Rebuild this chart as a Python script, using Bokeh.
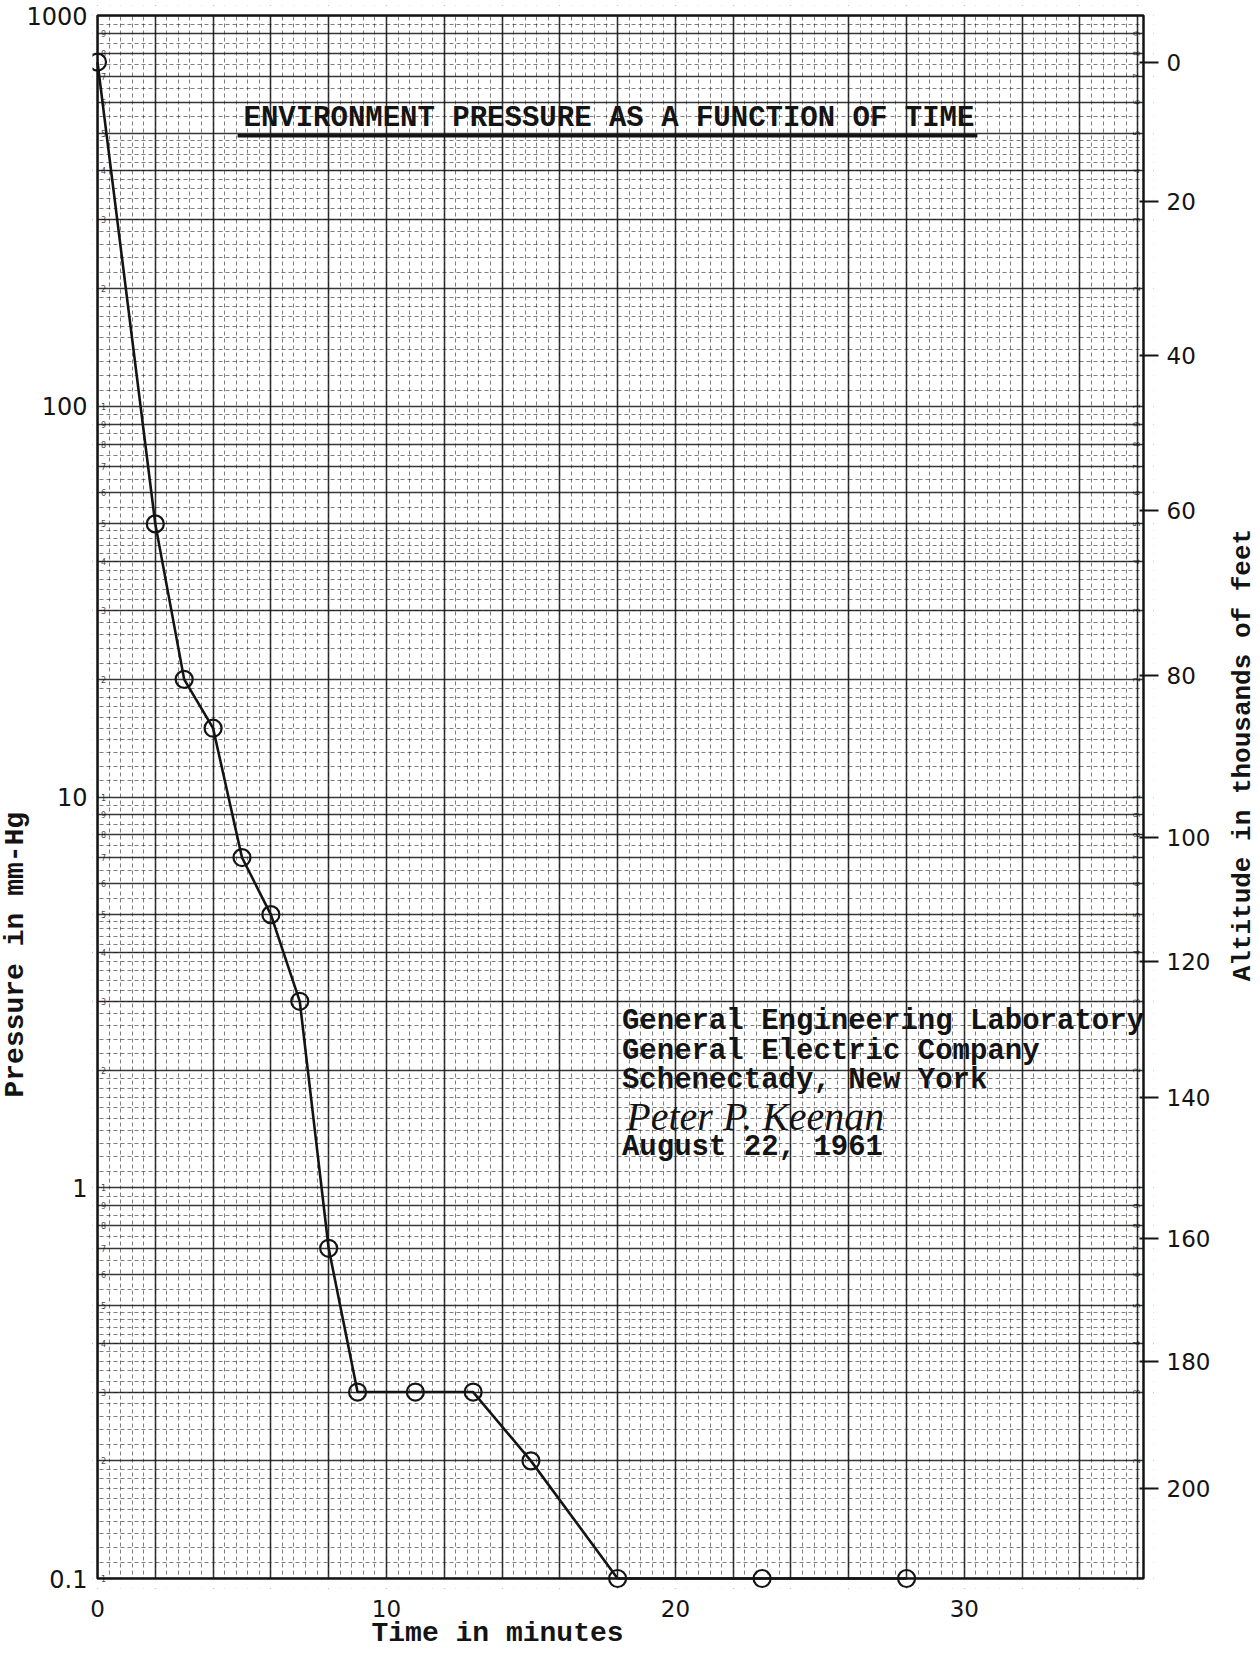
import numpy as np
from bokeh.plotting import figure
from bokeh.models import Range1d, FixedTicker, LogAxis, Label, Title
from bokeh.core.properties import value
from bokeh.embed import file_html
from bokeh.resources import INLINE

# ---------------- data ----------------
time_min = [0, 2, 3, 4, 5, 6, 7, 8, 9, 11, 13, 15, 18, 23, 28]
pressure_mmhg = [760, 50, 20, 15, 7, 5, 3, 0.7, 0.3, 0.3, 0.3, 0.2, 0.1, 0.1, 0.1]

x_ticks = [0, 10, 20, 30]
y_ticks = [0.1, 1.0, 10.0, 100.0, 1000.0]
y_tick_labels = ["0.1", "1", "10", "100", "1000"]

altitude_kft = [0, 20, 40, 60, 80, 100, 120, 140, 160, 180, 200]
altitude_pressure = [760.0, 335.0, 135.0, 54.0, 20.5, 7.9, 3.8, 1.7, 0.74, 0.36, 0.17]

title_text = "ENVIRONMENT PRESSURE AS A FUNCTION OF TIME"
note_lines = ["General Engineering Laboratory",
              "General Electric Company",
              "Schenectady, New York"]
signature_text = "Peter P. Keenan"
date_text = "August 22, 1961"
x_title = "Time in minutes"
y_title = "Pressure in mm-Hg"
y2_title = "Altitude in thousands of feet"

# ---------------- layout / styling ----------------
INK = "#141414"
MONO = "Liberation Mono"
SANS = "DejaVu Sans"

W, H = 1260, 1653
PAPER_X = (0.0, 36.2)          # extent of the graph paper (minutes)
PAPER_Y = (0.1, 1000.0)        # extent of the graph paper (mm-Hg)
paper_left, paper_top, paper_w, paper_h = 97, 15, 1046, 1563
pad_l, pad_r, pad_t, pad_b = 5, 10, 10, 10   # px of frame beyond the paper

px_per_min = paper_w / (PAPER_X[1] - PAPER_X[0])
px_per_dec = paper_h / (np.log10(PAPER_Y[1]) - np.log10(PAPER_Y[0]))
xr = Range1d(PAPER_X[0] - pad_l / px_per_min, PAPER_X[1] + pad_r / px_per_min)
yr = Range1d(PAPER_Y[0] / 10 ** (pad_b / px_per_dec), PAPER_Y[1] * 10 ** (pad_t / px_per_dec))

f_left = paper_left - pad_l
f_top = paper_top - pad_t
f_right = paper_left + paper_w + pad_r
f_bottom = paper_top + paper_h + pad_b

p = figure(width=W, height=H, x_range=xr, y_range=yr,
           y_axis_type="log", output_backend="svg", toolbar_location=None,
           min_border_left=f_left, min_border_right=W - f_right,
           min_border_top=f_top, min_border_bottom=H - f_bottom,
           background_fill_color="white", border_fill_color="white")
p.outline_line_color = None

# graph-paper grid
xg_major = list(np.arange(0, 36.3, 2.0))
xg_minor = list(np.round(np.arange(0, 36.3, 0.4), 3))
p.xgrid.ticker = FixedTicker(ticks=xg_major, minor_ticks=xg_minor)

yg_major, yg_minor = [], []
for k in range(-1, 3):
    d = 10.0 ** k
    for m in range(1, 10):
        yg_major.append(m * d)
    for m in np.arange(1.1, 2.0, 0.1):
        yg_minor.append(m * d)
    for m in np.arange(2.2, 5.0, 0.2):
        yg_minor.append(m * d)
    for m in [5.5, 6.5, 7.5, 8.5, 9.5]:
        yg_minor.append(m * d)
yg_major.append(1000.0)
p.ygrid.ticker = FixedTicker(ticks=yg_major, minor_ticks=yg_minor)

for g in (p.xgrid[0], p.ygrid[0]):
    g.grid_line_color = INK
    g.grid_line_alpha = 0.85
    g.grid_line_width = 1.6
    g.minor_grid_line_color = INK
    g.minor_grid_line_alpha = 0.55
    g.minor_grid_line_width = 1
    g.minor_grid_line_dash = "4 3"

# white margins hide grid outside the paper, then the paper border
lo_x, hi_x = xr.start, xr.end
lo_y, hi_y = yr.start, yr.end
p.quad(left=[lo_x, PAPER_X[1], lo_x, lo_x], right=[PAPER_X[0], hi_x, hi_x, hi_x],
       bottom=[lo_y, lo_y, lo_y, PAPER_Y[1]], top=[hi_y, hi_y, PAPER_Y[0], hi_y],
       fill_color="white", line_color=None)
p.quad(left=[PAPER_X[0]], right=[PAPER_X[1]], bottom=[PAPER_Y[0]], top=[PAPER_Y[1]],
       fill_color=None, line_color=INK, line_width=2.5)

# bottom axis
xa = p.xaxis[0]
xa.ticker = FixedTicker(ticks=x_ticks, minor_ticks=[])
xa.major_tick_out = 0
xa.major_tick_in = 0
xa.axis_line_color = None
xa.major_label_standoff = 11
xa.major_label_text_font = SANS
xa.major_label_text_font_size = "23px"
xa.major_label_text_color = INK

# left axis
ya = p.yaxis[0]
ya.ticker = FixedTicker(ticks=y_ticks, minor_ticks=[])
ya.major_label_overrides = {t: s for t, s in zip(y_ticks, y_tick_labels)}
ya.major_tick_out = 0
ya.major_tick_in = 0
ya.axis_line_color = None
ya.major_label_standoff = 5
ya.major_label_text_font = SANS
ya.major_label_text_font_size = "24px"
ya.major_label_text_color = INK

# right altitude axis
ra = LogAxis(ticker=FixedTicker(ticks=altitude_pressure, minor_ticks=[]))
ra.major_label_overrides = {pr: str(a) for pr, a in zip(altitude_pressure, altitude_kft)}
ra.axis_line_color = None
ra.major_tick_in = 14
ra.major_tick_out = 5
ra.major_tick_line_width = 2
ra.major_tick_line_color = INK
ra.major_label_standoff = 8
ra.major_label_text_font = SANS
ra.major_label_text_font_size = "23px"
ra.major_label_text_color = INK
p.add_layout(ra, "right")

# axis titles placed like the typed ones
p.add_layout(Title(text=x_title, align="left", offset=371 - f_left, standoff=-7,
                   text_font=MONO, text_font_style="bold", text_font_size="28px",
                   text_color=INK), "below")
p.add_layout(Title(text=y_title, align="left", offset=f_bottom - 1097, standoff=-14,
                   text_font=MONO, text_font_style="bold", text_font_size="28px",
                   text_color=INK), "left")
p.add_layout(Label(x=(1242 - paper_left) / px_per_min, y=12.8, text=y2_title,
                   text_font=MONO, text_font_style="bold", text_font_size="26px",
                   text_color=INK, angle=90, angle_units="deg",
                   text_align="center", text_baseline="middle"), "right")

# tiny printed numerals along the graph-paper edges
edge_vals, edge_txt = [], []
for k in range(-1, 3):
    for m in range(1, 10):
        edge_vals.append(m * 10.0 ** k)
        edge_txt.append(str(m))
p.text(x=[0.12] * len(edge_vals), y=edge_vals, text=edge_txt,
       text_font=value(SANS), text_font_size="8px", text_color=INK,
       text_align="left", text_baseline="middle", text_alpha=0.8)
p.text(x=[35.95] * len(edge_vals), y=edge_vals, text=edge_txt,
       text_font=value(SANS), text_font_size="8px", text_color=INK,
       text_align="center", text_baseline="middle", angle=np.pi / 2, text_alpha=0.8)

# data
p.line(time_min, pressure_mmhg, line_color=INK, line_width=2.6)
p.scatter(time_min, pressure_mmhg, marker="circle", size=17,
          fill_alpha=0, line_color=INK, line_width=2.2)

# title with underline
p.add_layout(Label(x=17.7, y=545, text=title_text, text_font=MONO,
                   text_font_style="bold", text_font_size="29px",
                   text_color=INK, text_align="center", text_baseline="middle"))
p.segment(x0=[4.85], y0=[492], x1=[30.45], y1=[492], line_color=INK, line_width=3.5)

# note block
note_y = [2.66, 2.23, 1.88]
for t, yy in zip(note_lines, note_y):
    p.add_layout(Label(x=18.15, y=yy, text=t, text_font=MONO, text_font_style="bold",
                       text_font_size="29px", text_color=INK,
                       text_align="left", text_baseline="middle"))
p.add_layout(Label(x=18.3, y=1.52, text=signature_text, text_font="Liberation Serif",
                   text_font_style="italic", text_font_size="40px", text_color=INK,
                   text_align="left", text_baseline="middle"))
p.add_layout(Label(x=18.15, y=1.267, text=date_text, text_font=MONO, text_font_style="bold",
                   text_font_size="29px", text_color=INK,
                   text_align="left", text_baseline="middle"))

open("out.html", "w").write(file_html(p, INLINE))
